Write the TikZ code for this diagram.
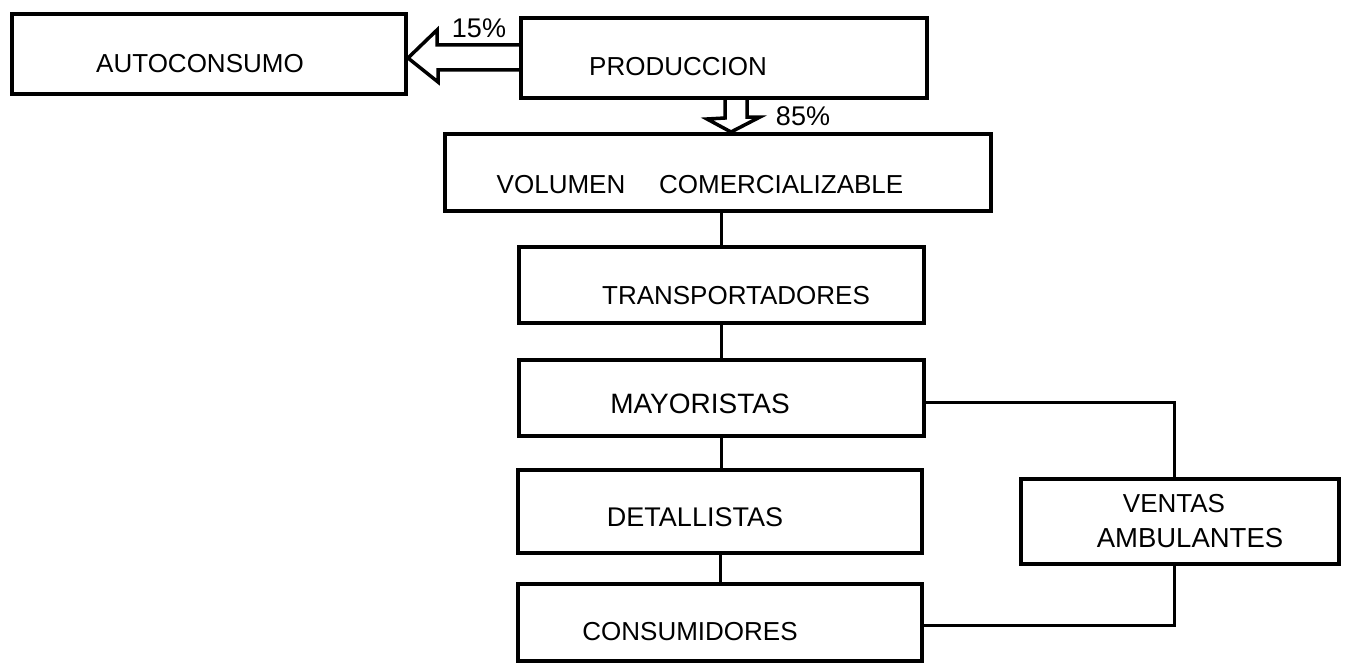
\documentclass[tikz,border=0pt]{standalone}
\usepackage{fontspec}
\setmainfont{Liberation Sans}
\usetikzlibrary{fit,calc}
\begin{document}
\begin{tikzpicture}[x=1pt,y=-1pt,
  box/.style={draw=black, line width=4pt, inner sep=0pt, rectangle},
  lbl/.style={font=\fontsize{26}{30}\selectfont, inner sep=0pt, text=black},
  pct/.style={font=\fontsize{27}{30}\selectfont, inner sep=0pt, text=black},
  conn/.style={draw=black, line width=3pt},
  barrow/.style={draw=black, line width=3.5pt, line join=miter}]
\useasboundingbox (0,0) rectangle (1352,669);
% boxes
\node[box, fit={(12,14) (406,94)}] (auto) {};
\node[box, fit={(521,18) (927,98)}] (prod) {};
\node[box, fit={(445,134) (991,211)}] (vol) {};
\node[box, fit={(519,247) (924,323)}] (trans) {};
\node[box, fit={(519,360) (924,436)}] (mayo) {};
\node[box, fit={(518,470) (922,553)}] (deta) {};
\node[box, fit={(518,584) (922,661)}] (cons) {};
\node[box, fit={(1021,479) (1339,564)}] (vent) {};
% texts
\node[lbl] (tauto) at (200,64) {AUTOCONSUMO};
\node[lbl] (tprod) at (678,67) {PRODUCCION};
\node[lbl] (tvol) at (700,185) {VOLUMEN\hspace{1.3em}COMERCIALIZABLE};
\node[lbl] (ttrans) at (736,296) {TRANSPORTADORES};
\node[lbl, font=\fontsize{28}{30}\selectfont] (tmayo) at (700,404) {MAYORISTAS};
\node[lbl, font=\fontsize{27}{30}\selectfont] (tdeta) at (695,517) {DETALLISTAS};
\node[lbl] (tcons) at (690,632) {CONSUMIDORES};
\node[lbl] (tvent1) at (1174,504) {VENTAS};
\node[lbl, font=\fontsize{27.5}{30}\selectfont] (tvent2) at (1190,538) {AMBULANTES};
\node[pct] (p15) at (479,28) {15\%};
\node[pct] (p85) at (803,116) {85\%};
% block arrows
\draw[barrow] (prod.west |- 0,45) -- (437,45) -- (437,30) -- (auto.east |- 0,58)
  -- (438,82) -- (438,70) -- (prod.west |- 0,70);
\draw[barrow] (725,0 |- prod.south) -- (725,118) -- (707,119) -- (731,0 |- vol.north)
  -- (760,117) -- (747,117) -- (747,0 |- prod.south);
% connectors
\draw[conn] (trans.north) -- (trans.north |- vol.south);
\draw[conn] (mayo.north) -- (trans.south);
\draw[conn] (deta.north -| mayo.south) -- (mayo.south);
\draw[conn] (cons.north) -- (cons.north |- deta.south);
\coordinate (vx) at (1174,0);
\draw[conn] ([yshift=-4pt]mayo.east) -| (vx |- vent.north);
\draw[conn] (vx |- vent.south) |- ([yshift=-3pt]cons.east);
\end{tikzpicture}
\end{document}
